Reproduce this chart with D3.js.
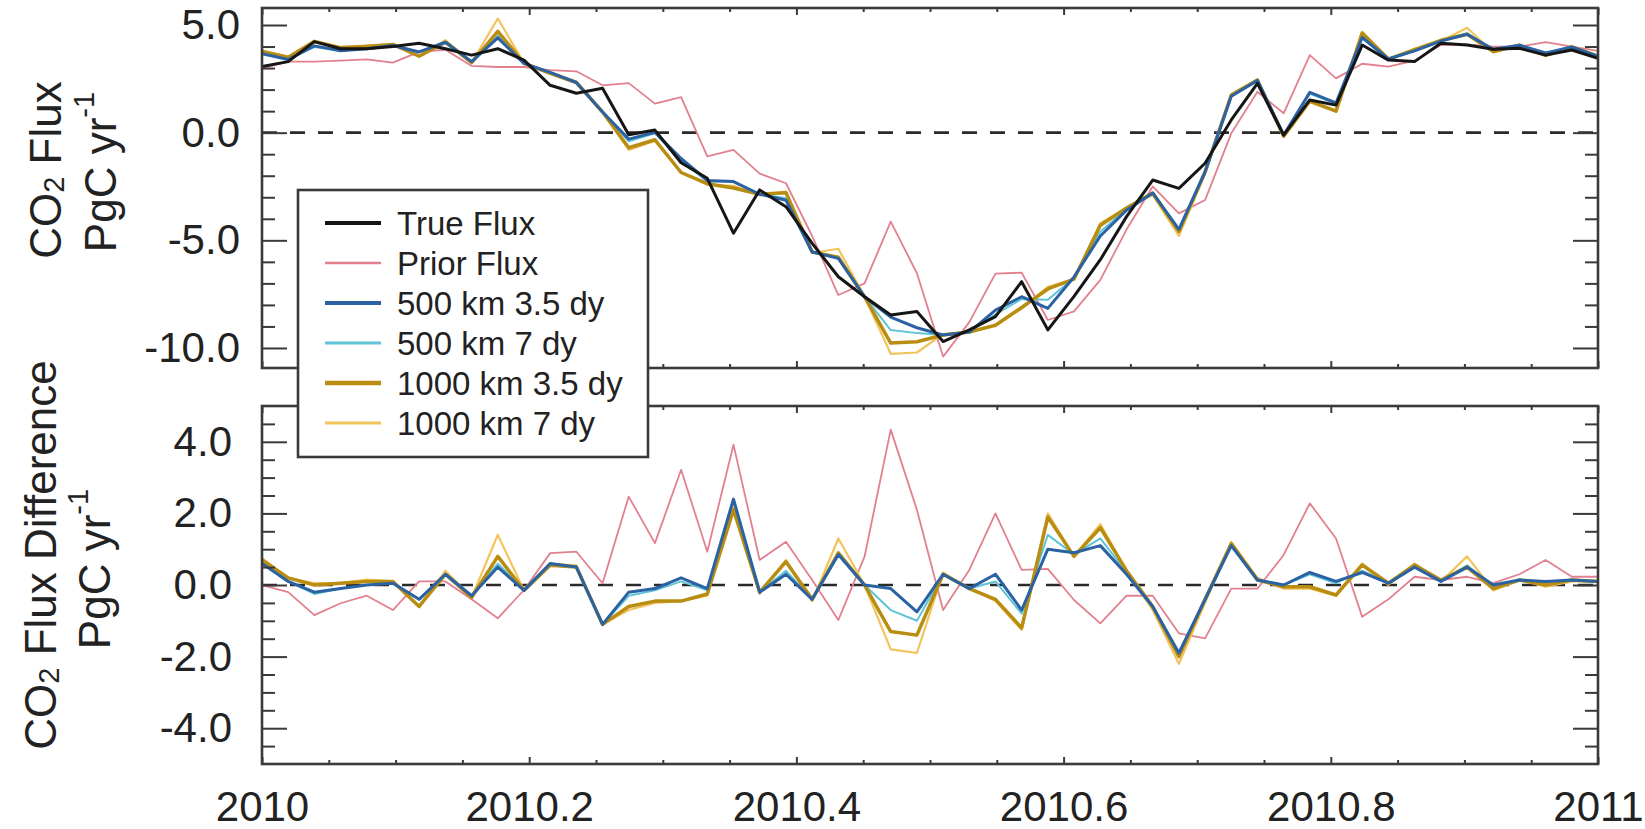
<!DOCTYPE html>
<html><head><meta charset="utf-8">
<script src="https://cdn.jsdelivr.net/npm/d3@7"></script>
<style>
body{margin:0;background:#fff}
svg{display:block}
text{font-family:"Liberation Sans",Arial,Helvetica,sans-serif;fill:#222}
</style></head>
<body><svg id="c" width="1645" height="829"></svg>
<script>
// ---------- DATA ----------
const weeks = [2010.0000,2010.0196,2010.0392,2010.0588,2010.0784,2010.0980,2010.1176,2010.1373,2010.1569,2010.1765,
 2010.1961,2010.2157,2010.2353,2010.2549,2010.2745,2010.2941,2010.3137,2010.3333,2010.3529,2010.3725,
 2010.3922,2010.4118,2010.4314,2010.4510,2010.4706,2010.4902,2010.5098,2010.5294,2010.5490,2010.5686,
 2010.5882,2010.6078,2010.6275,2010.6471,2010.6667,2010.6863,2010.7059,2010.7255,2010.7451,2010.7647,
 2010.7843,2010.8039,2010.8235,2010.8431,2010.8627,2010.8824,2010.9020,2010.9216,2010.9412,2010.9608,
 2010.9804,2011.0000];

const trueFlux = [3.07,3.3,4.23,3.9,3.9,4.0,4.15,3.9,3.6,3.9,3.37,2.2,1.83,2.06,-0.1,0.12,-1.4,-2.12,-4.67,-2.66,
 -3.44,-5.14,-6.69,-7.62,-8.47,-8.31,-9.7,-9.16,-8.54,-6.92,-9.16,-7.6,-5.9,-3.9,-2.2,-2.59,-1.42,0.59,2.29,-0.11,
 1.52,1.28,4.07,3.37,3.3,4.15,4.07,3.87,3.92,3.6,3.84,3.45];
const priorFlux = [2.99,3.3,3.3,3.35,3.4,3.25,3.75,3.85,3.1,3.05,3.05,2.9,2.85,2.2,2.3,1.35,1.65,-1.1,-0.8,-1.9,
 -2.35,-4.8,-7.54,-7.0,-4.13,-6.53,-10.4,-8.8,-6.55,-6.5,-8.7,-8.3,-6.84,-4.5,-2.5,-3.75,-3.13,-0.03,1.9,0.9,
 3.6,2.52,3.2,3.07,3.35,4.07,4.1,4.0,4.0,4.2,4.0,3.8];
const flux500d35 = [3.67,3.4,4.03,3.8,3.9,4.05,3.75,4.2,3.3,4.4,3.22,2.8,2.33,0.96,-0.3,0.02,-1.2,-2.22,-2.27,-2.86,
 -3.14,-5.54,-5.84,-7.62,-8.57,-9.06,-9.4,-9.26,-8.24,-7.62,-8.16,-6.7,-4.8,-3.6,-2.8,-4.49,-1.82,1.69,2.43,-0.11,
 1.87,1.38,4.42,3.42,3.8,4.25,4.57,3.87,4.06,3.7,3.98,3.55];
const flux500d7 = [3.72,3.4,3.98,3.8,3.9,4.05,3.75,4.2,3.3,4.5,3.22,2.8,2.33,0.96,-0.4,-0.03,-1.3,-2.27,-2.27,-2.86,
 -3.04,-5.54,-5.84,-7.62,-9.17,-9.31,-9.4,-9.26,-8.44,-7.72,-7.76,-6.75,-4.6,-3.55,-2.8,-4.54,-1.87,1.69,2.44,-0.11,
 1.82,1.33,4.47,3.42,3.8,4.25,4.62,3.82,4.07,3.65,3.99,3.55];
const flux1000d35 = [3.77,3.5,4.23,3.95,4.0,4.1,3.55,4.2,3.25,4.7,3.22,2.75,2.33,0.96,-0.7,-0.33,-1.85,-2.37,-2.57,-2.86,
 -2.79,-5.54,-5.79,-7.62,-9.77,-9.71,-9.4,-9.26,-8.94,-8.12,-7.26,-6.8,-4.3,-3.5,-2.8,-4.59,-1.82,1.75,2.43,-0.16,
 1.47,1.0,4.63,3.42,3.86,4.29,4.57,3.77,4.06,3.6,3.98,3.55];
const flux1000d7 = [3.82,3.5,4.28,3.95,4.05,4.1,3.55,4.3,3.25,5.3,3.22,2.8,2.38,0.96,-0.8,-0.38,-1.85,-2.42,-2.47,-2.91,
 -2.74,-5.59,-5.39,-7.62,-10.27,-10.21,-9.35,-9.26,-8.99,-8.17,-7.16,-6.8,-4.2,-3.5,-2.9,-4.79,-1.92,1.79,2.49,-0.21,
 1.42,0.98,4.67,3.37,3.9,4.25,4.87,3.72,4.07,3.55,3.94,3.55];

const diffPrior = [0.0,-0.2,-0.84,-0.51,-0.3,-0.7,0.1,0.1,-0.4,-0.93,-0.14,0.89,0.93,0.05,2.47,1.17,3.22,0.93,3.92,0.7,
 1.21,0.14,-0.98,0.79,4.34,2.1,-0.7,0.42,2.0,0.42,0.45,-0.42,-1.07,-0.3,-0.3,-1.35,-1.49,-0.1,-0.1,0.84,
 2.28,1.3,-0.89,-0.4,0.23,0.14,0.23,0.05,0.3,0.7,0.23,0.23];
const diff500d35 = [0.6,0.1,-0.2,-0.1,0.0,0.05,-0.4,0.3,-0.3,0.5,-0.15,0.6,0.5,-1.1,-0.2,-0.1,0.2,-0.1,2.4,-0.2,
 0.3,-0.4,0.85,0.0,-0.1,-0.75,0.3,-0.1,0.3,-0.7,1.0,0.9,1.1,0.3,-0.6,-1.9,-0.4,1.1,0.14,0.0,
 0.35,0.1,0.35,0.05,0.5,0.1,0.5,0.0,0.14,0.1,0.14,0.1];
const diff500d7 = [0.65,0.1,-0.25,-0.1,0.0,0.05,-0.4,0.3,-0.3,0.6,-0.15,0.6,0.5,-1.1,-0.3,-0.15,0.1,-0.15,2.4,-0.2,
 0.4,-0.4,0.85,0.0,-0.7,-1.0,0.3,-0.1,0.1,-0.8,1.4,0.85,1.3,0.35,-0.6,-1.95,-0.45,1.1,0.15,0.0,
 0.3,0.05,0.4,0.05,0.5,0.1,0.55,-0.05,0.15,0.05,0.15,0.1];
const diff1000d35 = [0.7,0.2,0.0,0.05,0.1,0.1,-0.6,0.3,-0.35,0.8,-0.15,0.55,0.5,-1.1,-0.6,-0.45,-0.45,-0.25,2.1,-0.2,
 0.65,-0.4,0.9,0.0,-1.3,-1.4,0.3,-0.1,-0.4,-1.2,1.9,0.8,1.6,0.4,-0.6,-2.0,-0.4,1.16,0.14,-0.05,
 -0.05,-0.28,0.56,0.05,0.56,0.14,0.5,-0.1,0.14,0.0,0.14,0.1];
const diff1000d7 = [0.75,0.2,0.05,0.05,0.15,0.1,-0.6,0.4,-0.35,1.4,-0.15,0.6,0.55,-1.1,-0.7,-0.5,-0.45,-0.3,2.2,-0.25,
 0.7,-0.45,1.3,0.0,-1.8,-1.9,0.35,-0.1,-0.45,-1.25,2.0,0.8,1.7,0.4,-0.7,-2.2,-0.5,1.2,0.2,-0.1,
 -0.1,-0.3,0.6,0.0,0.6,0.1,0.8,-0.15,0.15,-0.05,0.1,0.1];

const seriesNames = ["True Flux","Prior Flux","500 km 3.5 dy","500 km 7 dy","1000 km 3.5 dy","1000 km 7 dy"];
const xMajorTicks = [2010,2010.2,2010.4,2010.6,2010.8,2011];
const xTickLabels = ["2010","2010.2","2010.4","2010.6","2010.8","2011"];
const topYMajor = [5,0,-5,-10];
const topYMinor = [4,3,2,1,-1,-2,-3,-4,-6,-7,-8,-9];
const botYMajor = [4,2,0,-2,-4];
const botYMinor = [4.5,3.5,3,2.5,1.5,1,0.5,-0.5,-1,-1.5,-2.5,-3,-3.5,-4.5];
const xMinorTicks = [2010.05,2010.1,2010.15,2010.25,2010.3,2010.35,2010.45,2010.5,2010.55,2010.65,2010.7,2010.75,2010.85,2010.9,2010.95];

// ---------- STYLE ----------
const sty = {
  "True Flux":      {color:"#161616", w:3.0},
  "Prior Flux":     {color:"#e2808e", w:1.8},
  "500 km 3.5 dy":  {color:"#2a62a4", w:3.0},
  "500 km 7 dy":    {color:"#5ec4d6", w:2.0},
  "1000 km 3.5 dy": {color:"#b88d12", w:3.5},
  "1000 km 7 dy":   {color:"#f3c35c", w:2.2}
};
const AX = "#3a3a3a";
const FONT = "Liberation Sans, Arial, Helvetica, sans-serif";

const svg = d3.select("#c");
const x = d3.scaleLinear().domain([2010, 2011]).range([262, 1598]);
const yTop = d3.scaleLinear().domain([-10.93, 5.79]).range([368, 8]);
const yBot = d3.scaleLinear().domain([-5, 5]).range([764, 406]);

const fmt = v => v.toFixed(1);

function drawPanel(id, y, lines, yMaj, yMin, labelPad, showXLabels) {
  const [y1, y0] = y.range();
  const g = svg.append("g");
  g.append("clipPath").attr("id", "clip" + id)
    .append("rect").attr("x", x(2010)).attr("y", y0).attr("width", x(2011) - x(2010)).attr("height", y1 - y0);

  g.append("line").attr("x1", x(2010)).attr("x2", x(2011)).attr("y1", y(0)).attr("y2", y(0))
    .attr("stroke", "#2a2a2a").attr("stroke-width", 2.6).attr("stroke-dasharray", "15,13");

  const lg = d3.line().x((d, i) => x(weeks[i])).y(d => y(d));
  const lgG = g.append("g").attr("clip-path", `url(#clip${id})`);
  lines.forEach(([name, vals]) => {
    lgG.append("path").datum(vals).attr("d", lg).attr("fill", "none")
      .attr("stroke", sty[name].color).attr("stroke-width", sty[name].w)
      .attr("stroke-linejoin", "round").attr("stroke-linecap", "round");
  });

  const styleAxis = sel => {
    sel.select(".domain").remove();
    sel.selectAll(".tick line").attr("stroke", AX).attr("stroke-width", 2);
    sel.selectAll("text").attr("font-family", FONT).attr("fill", "#222");
  };
  g.append("g").attr("transform", `translate(${x(2010)},0)`)
    .call(d3.axisLeft(y).tickValues(yMaj).tickSize(-25).tickPadding(labelPad).tickFormat(fmt))
    .call(styleAxis).selectAll("text").attr("font-size", 42);
  g.append("g").attr("transform", `translate(${x(2010)},0)`)
    .call(d3.axisLeft(y).tickValues(yMin).tickSize(-13).tickFormat("")).call(styleAxis);
  g.append("g").attr("transform", `translate(${x(2011)},0)`)
    .call(d3.axisRight(y).tickValues(yMaj).tickSize(-25).tickFormat("")).call(styleAxis);
  g.append("g").attr("transform", `translate(${x(2011)},0)`)
    .call(d3.axisRight(y).tickValues(yMin).tickSize(-13).tickFormat("")).call(styleAxis);

  g.append("g").attr("transform", `translate(0,${y0})`)
    .call(d3.axisTop(x).tickValues(xMajorTicks).tickSize(-7).tickFormat("")).call(styleAxis);
  g.append("g").attr("transform", `translate(0,${y0})`)
    .call(d3.axisTop(x).tickValues(xMinorTicks).tickSize(-4).tickFormat("")).call(styleAxis);
  const bx = g.append("g").attr("transform", `translate(0,${y1})`)
    .call(d3.axisBottom(x).tickValues(xMajorTicks).tickSize(-7).tickPadding(27)
      .tickFormat((d, i) => showXLabels ? xTickLabels[i] : ""))
    .call(styleAxis);
  bx.selectAll("text").attr("font-size", 42);
  g.append("g").attr("transform", `translate(0,${y1})`)
    .call(d3.axisBottom(x).tickValues(xMinorTicks).tickSize(-4).tickFormat("")).call(styleAxis);

  g.append("rect").attr("x", x(2010)).attr("y", y0).attr("width", x(2011) - x(2010)).attr("height", y1 - y0)
    .attr("fill", "none").attr("stroke", AX).attr("stroke-width", 2.6);
}

drawPanel("T", yTop, [
  ["Prior Flux", priorFlux], ["1000 km 7 dy", flux1000d7], ["500 km 7 dy", flux500d7],
  ["1000 km 3.5 dy", flux1000d35], ["500 km 3.5 dy", flux500d35], ["True Flux", trueFlux]
], topYMajor, topYMinor, 22, false);

drawPanel("B", yBot, [
  ["Prior Flux", diffPrior], ["1000 km 7 dy", diff1000d7], ["500 km 7 dy", diff500d7],
  ["1000 km 3.5 dy", diff1000d35], ["500 km 3.5 dy", diff500d35]
], botYMajor, botYMinor, 30, true);

function vtitle(cx, cy, parts) {
  const t = svg.append("text").attr("transform", `translate(${cx},${cy}) rotate(-90)`)
    .attr("text-anchor", "middle").attr("dominant-baseline", "central")
    .attr("font-size", 44).attr("font-family", FONT).attr("fill", "#222");
  parts.forEach(p => {
    const s = t.append("tspan").text(p.t);
    if (p.sub) s.attr("font-size", 29).attr("baseline-shift", "-30%");
    if (p.sup) s.attr("font-size", 29).attr("baseline-shift", "55%");
  });
}
vtitle(45, 170, [{t:"CO"}, {t:"2", sub:true}, {t:" Flux"}]);
vtitle(100, 172, [{t:"PgC yr"}, {t:"-1", sup:true}]);
vtitle(40, 555, [{t:"CO"}, {t:"2", sub:true}, {t:" Flux Difference"}]);
vtitle(94, 569, [{t:"PgC yr"}, {t:"-1", sup:true}]);

const leg = svg.append("g");
leg.append("rect").attr("x", 298).attr("y", 190).attr("width", 350).attr("height", 267)
  .attr("fill", "#fff").attr("stroke", AX).attr("stroke-width", 2.6);
seriesNames.forEach((n, i) => {
  const yy = 223 + i * 40;
  leg.append("line").attr("x1", 325).attr("x2", 381).attr("y1", yy).attr("y2", yy)
    .attr("stroke", sty[n].color).attr("stroke-width", sty[n].w + 0.8);
  leg.append("text").attr("x", 397).attr("y", yy).attr("dominant-baseline", "central")
    .attr("font-size", 33).attr("font-family", FONT).attr("fill", "#222").text(n);
});
</script></body></html>
